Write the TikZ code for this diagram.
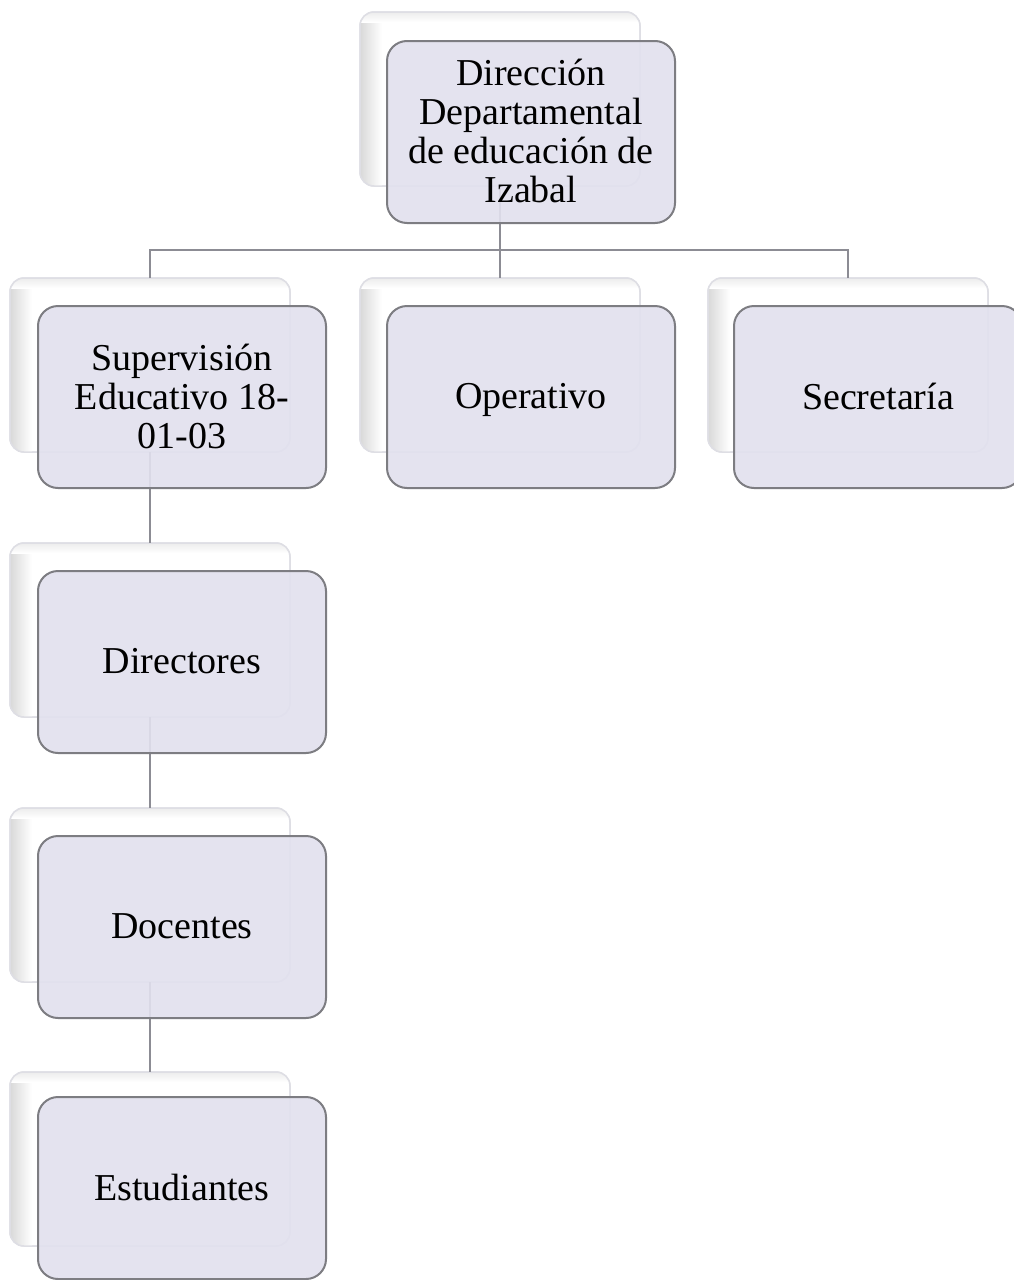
\documentclass[tikz,border=0pt]{standalone}
\usepackage{fontspec}
\setmainfont{Liberation Serif}
\definecolor{frontfill}{RGB}{226,225,238}
\definecolor{frontdraw}{RGB}{125,125,130}
\definecolor{backdraw}{RGB}{222,222,228}
\definecolor{linkcol}{RGB}{140,140,148}
\tikzset{
  backbox/.style={draw=backdraw, line width=1.5pt, fill=white, rounded corners=14pt,
    minimum width=280pt, minimum height=174pt, inner sep=0pt, outer sep=0pt, anchor=north west},
  frontbox/.style={draw=frontdraw, line width=2pt, fill=frontfill, fill opacity=0.9, text opacity=1,
    rounded corners=20pt, minimum width=288pt, minimum height=182pt, inner sep=4pt,
    anchor=north west, align=center, text depth=2pt,
    font=\fontsize{38}{39}\selectfont},
  link/.style={draw=linkcol, line width=2.5pt}
}
\newcommand\mkback[3]{%
  \node[backbox] (#1) at (#2,#3) {};
  \begin{scope}
    \clip[rounded corners=14pt] (#2,#3) rectangle ++(280,174);
    \shade[left color=gray!30, right color=white] (#2,#3) rectangle ++(22,174);
    \shade[top color=gray!15, bottom color=white] (#2,#3) rectangle ++(280,10);
  \end{scope}
  \draw[draw=backdraw, line width=1.5pt, rounded corners=14pt] (#2,#3) rectangle ++(280,174);
}
\begin{document}
\begin{tikzpicture}[x=1pt,y=-1pt]
\useasboundingbox (0,0) rectangle (1013,1280);
\fill[white] (0,0) rectangle (1013,1280);
% back boxes
\mkback{b1}{360}{12}
\mkback{b2}{10}{278}
\mkback{b3}{360}{278}
\mkback{b4}{708}{278}
\mkback{b5}{10}{543}
\mkback{b6}{10}{808}
\mkback{b7}{10}{1072}
% connectors
\coordinate (bus) at (500,250);
\draw[link] (b1.south) -- (bus);
\draw[link] (b2.north) |- (bus) -| (b4.north);
\draw[link] (bus) -- (b3.north);
\draw[link] (b2.south) -- (b5.north);
\draw[link] (b5.south) -- (b6.north);
\draw[link] (b6.south) -- (b7.north);
% front boxes
\node[frontbox] (f1) at (386,40) {Dirección\\Departamental\\de educación de\\Izabal};
\node[frontbox] (f2) at (37,305) {Supervisión\\Educativo 18-\\01-03};
\node[frontbox] (f3) at (386,305) {Operativo};
\node[frontbox] (f4) at (733,305) {Secretaría};
\node[frontbox] (f5) at (37,570) {Directores};
\node[frontbox] (f6) at (37,835) {Docentes};
\node[frontbox] (f7) at (37,1096) {Estudiantes};
\end{tikzpicture}
\end{document}
